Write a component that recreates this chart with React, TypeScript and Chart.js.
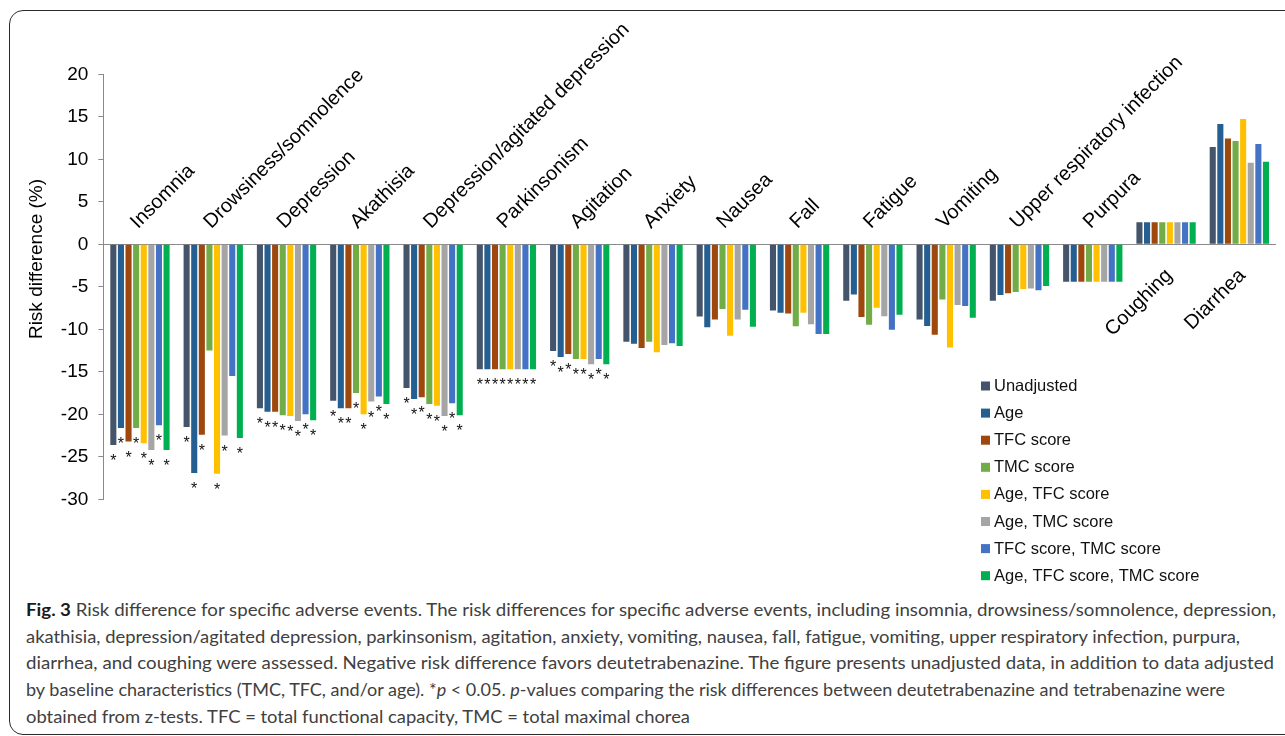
import React, { useEffect, useLayoutEffect, useRef } from 'react';
import { Chart, registerables } from 'chart.js';

Chart.register(...registerables);

const categories = [
  'Insomnia',
  'Drowsiness/somnolence',
  'Depression',
  'Akathisia',
  'Depression/agitated depression',
  'Parkinsonism',
  'Agitation',
  'Anxiety',
  'Nausea',
  'Fall',
  'Fatigue',
  'Vomiting',
  'Upper respiratory infection',
  'Purpura',
  'Coughing',
  'Diarrhea',
];

const seriesNames = [
  'Unadjusted',
  'Age',
  'TFC score',
  'TMC score',
  'Age, TFC score',
  'Age, TMC score',
  'TFC score, TMC score',
  'Age, TFC score, TMC score',
];

const seriesColors = ['#44546A', '#255E91', '#9E480E', '#70AD47', '#FFC000', '#A5A5A5', '#4472C4', '#00B050'];

const unadjusted = [-23.6, -21.5, -19.3, -18.4, -16.9, -14.7, -12.55, -11.45, -8.5, -7.8, -6.65, -8.85, -6.65, -4.4, 2.6, 11.45];
const age = [-21.6, -26.9, -19.7, -19.3, -18.2, -14.7, -13.25, -11.7, -9.75, -8.05, -5.9, -9.6, -5.95, -4.4, 2.6, 14.15];
const tfc = [-23.2, -22.4, -19.7, -19.3, -18.0, -14.7, -12.9, -12.2, -8.85, -8.15, -8.55, -10.65, -5.75, -4.4, 2.6, 12.45];
const tmc = [-21.6, -12.5, -20.1, -17.5, -18.8, -14.7, -13.5, -11.45, -7.6, -9.65, -9.45, -6.5, -5.6, -4.4, 2.6, 12.15];
const ageTfc = [-23.4, -27.0, -20.2, -20.0, -19.0, -14.7, -13.5, -12.7, -10.75, -8.05, -7.45, -12.15, -5.25, -4.4, 2.6, 14.75];
const ageTmc = [-24.2, -22.5, -20.8, -18.5, -20.2, -14.7, -14.1, -11.85, -8.85, -9.4, -8.45, -7.15, -5.2, -4.4, 2.6, 9.6];
const tfcTmc = [-21.3, -15.5, -20.0, -17.9, -18.7, -14.7, -13.5, -11.65, -7.7, -10.55, -10.05, -7.25, -5.4, -4.4, 2.6, 11.8];
const allAdj = [-24.2, -22.8, -20.7, -18.8, -20.1, -14.7, -14.1, -11.95, -9.7, -10.55, -8.3, -8.65, -4.9, -4.4, 2.6, 9.7];

const seriesValues = [unadjusted, age, tfc, tmc, ageTfc, ageTmc, tfcTmc, allAdj];

// significance (* p < 0.05) per series, per category
const sigAll = [1, 1, 1, 1, 1, 1, 1, 0, 0, 0, 0, 0, 0, 0, 0, 0];
const sigNoDrowsy = [1, 0, 1, 1, 1, 1, 1, 0, 0, 0, 0, 0, 0, 0, 0, 0];
const significant = [sigAll, sigAll, sigAll, sigNoDrowsy, sigAll, sigAll, sigNoDrowsy, sigAll];

const yTicks = [20, 15, 10, 5, 0, -5, -10, -15, -20, -25, -30];
const yTitle = 'Risk difference (%)';

const captionLines = [
  [{ t: 'Fig. 3', b: true }, { t: ' Risk difference for specific adverse events. The risk differences for specific adverse events, including insomnia, drowsiness/somnolence, depression,' }],
  [{ t: 'akathisia, depression/agitated depression, parkinsonism, agitation, anxiety, vomiting, nausea, fall, fatigue, vomiting, upper respiratory infection, purpura,' }],
  [{ t: 'diarrhea, and coughing were assessed. Negative risk difference favors deutetrabenazine. The figure presents unadjusted data, in addition to data adjusted' }],
  [
    { t: 'by baseline characteristics (TMC, TFC, and/or age). *' },
    { t: 'p', i: true },
    { t: ' < 0.05. ' },
    { t: 'p', i: true },
    { t: '-values comparing the risk differences between deutetrabenazine and tetrabenazine were' },
  ],
  [{ t: 'obtained from z-tests. TFC = total functional capacity, TMC = total maximal chorea' }],
];
const captionWidths = [1250, 1214, 1248, 1199, 664];

const FONT = '"Liberation Sans", Arial, sans-serif';

const overlayPlugin = {
  id: 'overlay',
  afterDatasetsDraw(chart: any) {
    const ctx = chart.ctx as CanvasRenderingContext2D;
    const xs = chart.scales.x;
    const ys = chart.scales.y;
    const zero = ys.getPixelForValue(0);

    // significance stars
    ctx.save();
    ctx.fillStyle = '#111';
    ctx.font = `16px ${FONT}`;
    ctx.textAlign = 'center';
    ctx.textBaseline = 'alphabetic';
    seriesValues.forEach((_, si) => {
      const meta = chart.getDatasetMeta(si);
      meta.data.forEach((bar: any, ci: number) => {
        if (significant[si][ci]) {
          ctx.fillText('*', bar.x, bar.y + 21);
        }
      });
    });
    ctx.restore();

    // category labels
    ctx.save();
    ctx.fillStyle = '#000';
    ctx.font = `20px ${FONT}`;
    ctx.textBaseline = 'alphabetic';
    categories.forEach((c, ci) => {
      const x = xs.getPixelForValue(ci);
      const positive = seriesValues.some((s) => s[ci] > 0);
      ctx.save();
      if (!positive) {
        ctx.translate(x - 2, zero - 15);
        ctx.rotate(-Math.PI / 4);
        ctx.textAlign = 'left';
      } else {
        ctx.translate(x + 7, zero + 32);
        ctx.rotate(-Math.PI / 4);
        ctx.textAlign = 'right';
      }
      ctx.fillText(c, 0, 0);
      ctx.restore();
    });
    ctx.restore();

    // legend
    ctx.save();
    ctx.font = `16.5px ${FONT}`;
    ctx.textBaseline = 'middle';
    ctx.textAlign = 'left';
    seriesNames.forEach((n, i) => {
      const cy = 386 + 27.1 * i;
      ctx.fillStyle = seriesColors[i];
      ctx.fillRect(981, cy - 4.5, 9, 9);
      ctx.fillStyle = '#111';
      ctx.fillText(n, 994, cy + 0.5);
    });
    ctx.restore();

    // y axis title
    ctx.save();
    ctx.fillStyle = '#000';
    ctx.font = `19px ${FONT}`;
    ctx.textAlign = 'center';
    ctx.textBaseline = 'middle';
    ctx.translate(37, 259);
    ctx.rotate(-Math.PI / 2);
    ctx.fillText(yTitle, 0, 0);
    ctx.restore();
  },
};

export default function App() {
  const canvasRef = useRef<HTMLCanvasElement>(null);
  const lineRefs = useRef<(HTMLSpanElement | null)[]>([]);

  useEffect(() => {
    document.body.style.margin = '0';
    const chart = new Chart(canvasRef.current!, {
      type: 'bar',
      data: {
        labels: categories,
        datasets: seriesValues.map((v, i) => ({
          label: seriesNames[i],
          data: v,
          backgroundColor: seriesColors[i],
          borderWidth: 0,
          barPercentage: 0.8,
          categoryPercentage: 0.83,
        })),
      },
      options: {
        animation: false,
        responsive: false,
        devicePixelRatio: 1,
        layout: { padding: { top: 74.3, bottom: 90.7, left: 0, right: 9 } },
        plugins: { legend: { display: false }, tooltip: { enabled: false }, title: { display: false } },
        scales: {
          x: { display: false },
          y: {
            min: -30,
            max: 20,
            afterFit: (s: any) => {
              s.width = 103.3;
            },
            afterBuildTicks: (s: any) => {
              s.ticks = yTicks.map((v) => ({ value: v }));
            },
            ticks: {
              font: { family: FONT, size: 19 },
              color: '#000',
              padding: 10,
            },
            grid: {
              drawOnChartArea: true,
              color: (c: any) => (c.tick && c.tick.value === 0 ? '#8a8a8a' : 'rgba(0,0,0,0)'),
              tickColor: '#8a8a8a',
              tickLength: 5,
              lineWidth: 1,
            },
            border: { display: true, color: '#8a8a8a', width: 1 },
          },
        },
      },
      plugins: [overlayPlugin],
    });
    return () => chart.destroy();
  }, []);

  useLayoutEffect(() => {
    lineRefs.current.forEach((el, i) => {
      if (!el) return;
      el.style.transform = 'none';
      const w = el.getBoundingClientRect().width;
      if (w > 0) el.style.transform = `scaleX(${captionWidths[i] / w})`;
    });
  }, []);

  return (
    <div style={{ position: 'absolute', left: 0, top: 0, width: 1285, height: 736, overflow: 'hidden', background: '#fff' }}>
      <div
        style={{
          position: 'absolute',
          left: 9,
          top: 10,
          width: 1300,
          height: 725,
          border: '1.5px solid #2a2a2a',
          borderRadius: 14,
          boxSizing: 'border-box',
        }}
      />
      <canvas ref={canvasRef} width={1285} height={590} style={{ position: 'absolute', left: 0, top: 0, width: 1285, height: 590 }} />
      <div
        style={{
          position: 'absolute',
          left: 26,
          top: 597,
          fontFamily: 'Lato, "Open Sans", sans-serif',
          fontSize: 16.5,
          lineHeight: '26.7px',
          color: '#404040',
        }}
      >
        {captionLines.map((line, li) => (
          <div key={li} style={{ whiteSpace: 'nowrap', height: 26.7 }}>
            <span
              ref={(el) => {
                lineRefs.current[li] = el;
              }}
              style={{ display: 'inline-block', transformOrigin: 'left center' }}
            >
              {line.map((seg: any, si) => (
                <span key={si} style={{ fontWeight: seg.b ? 700 : 400, fontStyle: seg.i ? 'italic' : 'normal', color: seg.b ? '#1a1a1a' : undefined }}>
                  {seg.t}
                </span>
              ))}
            </span>
          </div>
        ))}
      </div>
    </div>
  );
}
